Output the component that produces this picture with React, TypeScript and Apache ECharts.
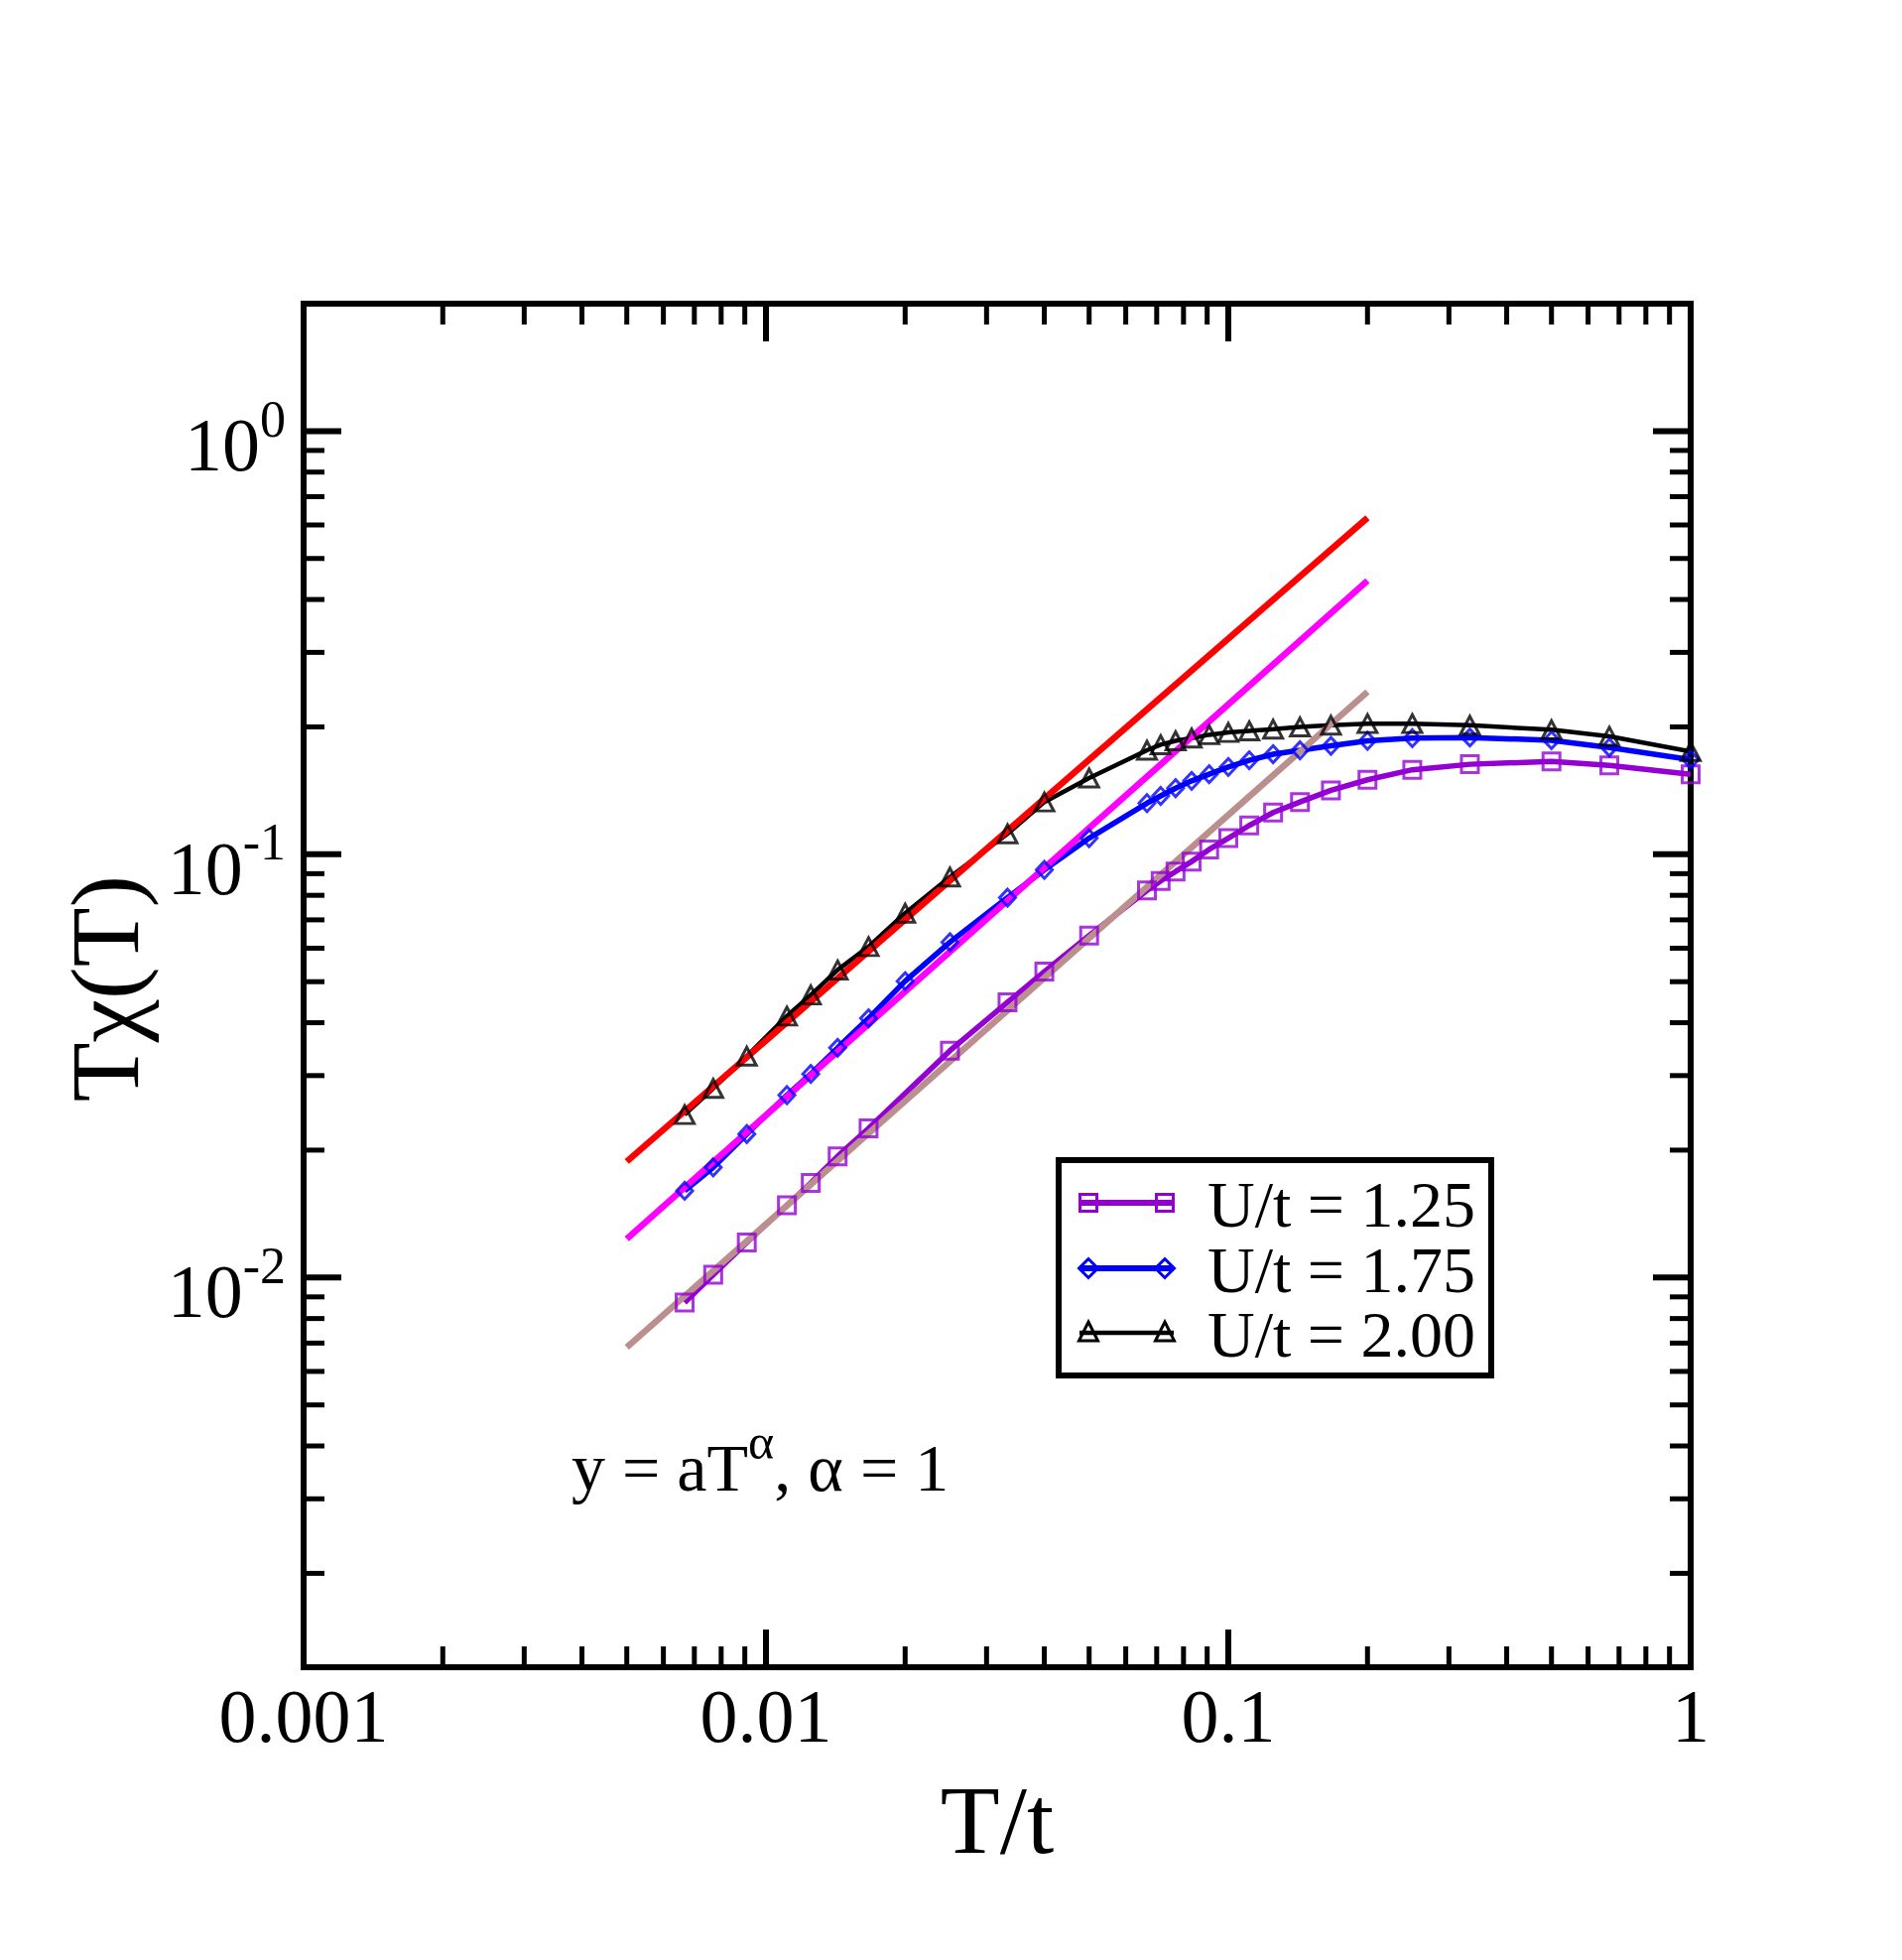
import React, { useEffect, useRef } from 'react';
import * as echarts from 'echarts';

// ---------- data ----------
const T_125 = [0.00667, 0.00769, 0.00909, 0.0111, 0.0125, 0.01429, 0.01667, 0.025, 0.0333, 0.04, 0.05, 0.0667, 0.0714, 0.0769, 0.0833, 0.0909, 0.1, 0.111, 0.125, 0.1429, 0.1667, 0.2, 0.25, 0.333, 0.5, 0.667, 1];
const Y_125 = [0.00873, 0.01015, 0.0121, 0.01482, 0.01673, 0.01934, 0.0225, 0.03436, 0.04471, 0.05281, 0.06427, 0.08214, 0.08648, 0.09105, 0.09614, 0.1027, 0.1092, 0.117, 0.1255, 0.1329, 0.1416, 0.15, 0.1584, 0.1632, 0.1657, 0.1622, 0.1546];

const T_175 = [0.00667, 0.00769, 0.00909, 0.0111, 0.0125, 0.01429, 0.01667, 0.02, 0.025, 0.0333, 0.04, 0.05, 0.0667, 0.0714, 0.0769, 0.0833, 0.0909, 0.1, 0.111, 0.125, 0.1429, 0.1667, 0.2, 0.25, 0.333, 0.5, 0.667, 1];
const Y_175 = [0.01603, 0.01821, 0.02183, 0.02698, 0.03027, 0.03489, 0.04097, 0.05016, 0.06199, 0.07898, 0.09187, 0.1092, 0.1321, 0.1374, 0.1433, 0.1491, 0.1546, 0.1608, 0.1668, 0.1724, 0.1761, 0.1804, 0.1854, 0.1882, 0.1888, 0.186, 0.1788, 0.1673];

const T_200 = [0.00667, 0.00769, 0.00909, 0.0111, 0.0125, 0.01429, 0.01667, 0.02, 0.025, 0.0333, 0.04, 0.05, 0.0667, 0.0714, 0.0769, 0.0833, 0.0909, 0.1, 0.111, 0.125, 0.1429, 0.1667, 0.2, 0.25, 0.333, 0.5, 0.667, 1];
const Y_200 = [0.02426, 0.02798, 0.03334, 0.04146, 0.04651, 0.05329, 0.0605, 0.07256, 0.08834, 0.1118, 0.1329, 0.1514, 0.1761, 0.1815, 0.1854, 0.1882, 0.1916, 0.194, 0.1957, 0.1975, 0.1999, 0.2018, 0.2036, 0.2036, 0.2018, 0.1969, 0.19, 0.175];

// power-law fit lines y = a T^alpha (end points)
const FIT_T = [0.005, 0.2];
const FIT_RED = [0.0188, 0.624];
const FIT_MAGENTA = [0.01234, 0.443];
const FIT_TAN = [0.00684, 0.242];

// axes
const X_MIN = 0.001;
const X_MAX = 1;
const Y_MIN = 0.0012;
const Y_MAX = 2;
const X_MAJOR = [0.001, 0.01, 0.1, 1];
const X_LABELS = ['0.001', '0.01', '0.1', '1'];
const X_MINOR = [0.002, 0.003, 0.004, 0.005, 0.006, 0.007, 0.008, 0.009, 0.02, 0.03, 0.04, 0.05, 0.06, 0.07, 0.08, 0.09, 0.2, 0.3, 0.4, 0.5, 0.6, 0.7, 0.8, 0.9];
const Y_MAJOR = [0.01, 0.1, 1];
const Y_EXP_LABELS = ['-2', '-1', '0'];
const Y_MINOR = [0.002, 0.003, 0.004, 0.005, 0.006, 0.007, 0.008, 0.009, 0.02, 0.03, 0.04, 0.05, 0.06, 0.07, 0.08, 0.09, 0.2, 0.3, 0.4, 0.5, 0.6, 0.7, 0.8, 0.9];

const LEGEND_LABELS = ['U/t = 1.25', 'U/t = 1.75', 'U/t = 2.00'];
const X_TITLE = 'T/t';
const Y_TITLE = 'Tχ(T)';

const FONT = '"Liberation Serif", "Times New Roman", serif';
const PURPLE = '#9400d3';
const BLUE = '#0000ff';
const BLACK = '#000000';

function zip(a: number[], b: number[]) {
  return a.map((v, i) => [v, b[i]]);
}

function isPow10(v: number) {
  const e = Math.log10(v);
  return Math.abs(e - Math.round(e)) < 1e-6 ? Math.round(e) : null;
}

function buildOption() {
  const tickData: number[][] = [
    ...X_MAJOR.map((v) => [v, 1, 0]),
    ...X_MINOR.map((v) => [v, 1, 1]),
    ...Y_MAJOR.map((v) => [1, v, 2]),
    ...Y_MINOR.map((v) => [1, v, 3]),
  ];

  const lineSeries = (name: string, data: number[][], color: string, width: number, z: number) => ({
    type: 'line',
    name,
    data,
    showSymbol: false,
    symbol: 'none',
    lineStyle: { color, width },
    itemStyle: { color },
    z,
    silent: true,
  });

  const markerSeries = (data: number[][], color: string, symbol: string, size: any) => ({
    type: 'scatter',
    data,
    symbol,
    symbolSize: size,
    itemStyle: { color: 'rgba(0,0,0,0)', borderColor: color, borderWidth: 3 },
    z: 6,
    silent: true,
  });

  const legendRows = [1212, 1278, 1343];
  const legendColors = [PURPLE, BLUE, BLACK];
  const legendWidths = [6, 6, 4.5];
  const lx1 = 1088;
  const lx2 = 1183;
  const mk = [1097, 1174];
  const legendEls: any[] = [
    {
      type: 'rect',
      z: 100,
      shape: { x: 1067, y: 1169, width: 436, height: 217 },
      style: { fill: '#fff', stroke: '#000', lineWidth: 6 },
    },
  ];
  legendRows.forEach((ry, i) => {
    legendEls.push({
      type: 'line',
      z: 101,
      shape: { x1: lx1, y1: ry, x2: lx2, y2: ry },
      style: { stroke: legendColors[i], lineWidth: legendWidths[i] },
    });
    mk.forEach((mx) => {
      if (i === 0) {
        legendEls.push({
          type: 'rect',
          z: 102,
          shape: { x: mx - 8.5, y: ry - 8.5, width: 17, height: 17 },
          style: { fill: 'none', stroke: PURPLE, lineWidth: 3 },
        });
      } else if (i === 1) {
        legendEls.push({
          type: 'polygon',
          z: 102,
          shape: { points: [[mx, ry - 9.5], [mx + 9.5, ry], [mx, ry + 9.5], [mx - 9.5, ry]] },
          style: { fill: 'none', stroke: BLUE, lineWidth: 3 },
        });
      } else {
        legendEls.push({
          type: 'polygon',
          z: 102,
          shape: { points: [[mx, ry - 11], [mx + 9.5, ry + 8], [mx - 9.5, ry + 8]] },
          style: { fill: 'none', stroke: BLACK, lineWidth: 3 },
        });
      }
    });
    legendEls.push({
      type: 'text',
      z: 102,
      x: 1217,
      y: ry + 1,
      style: {
        text: LEGEND_LABELS[i],
        fill: '#000',
        font: `66px ${FONT}`,
        lineHeight: 58,
        textAlign: 'left',
        align: 'left',
        textVerticalAlign: 'middle',
        verticalAlign: 'middle',
      },
    });
  });

  return {
    animation: false,
    backgroundColor: '#ffffff',
    grid: {
      left: 306,
      top: 306,
      width: 1398,
      height: 1374,
      show: true,
      borderColor: '#000',
      borderWidth: 6,
      backgroundColor: 'transparent',
      containLabel: false,
    },
    xAxis: {
      type: 'log',
      logBase: 10,
      min: X_MIN,
      max: X_MAX,
      axisLine: { show: false },
      axisTick: { show: false },
      minorTick: { show: false },
      splitLine: { show: false },
      axisLabel: {
        show: true,
        margin: 11,
        color: '#000',
        fontFamily: FONT,
        fontSize: 76,
        showMinLabel: true,
        showMaxLabel: true,
        formatter: (v: number) => {
          const e = isPow10(v);
          if (e === null) return '';
          const idx = X_MAJOR.findIndex((m) => Math.round(Math.log10(m)) === e);
          return idx < 0 ? '' : X_LABELS[idx];
        },
      },
    },
    yAxis: {
      type: 'log',
      logBase: 10,
      min: Y_MIN,
      max: Y_MAX,
      axisLine: { show: false },
      axisTick: { show: false },
      minorTick: { show: false },
      splitLine: { show: false },
      axisLabel: {
        show: true,
        margin: 18,
        color: '#000',
        fontFamily: FONT,
        formatter: (v: number) => {
          const e = isPow10(v);
          if (e === null) return '';
          const idx = Y_MAJOR.findIndex((m) => Math.round(Math.log10(m)) === e);
          return idx < 0 ? '' : `{b|10}{s|${Y_EXP_LABELS[idx]}}`;
        },
        rich: {
          b: { fontSize: 76, lineHeight: 76, fontFamily: FONT, color: '#000', padding: [28, 0, 0, 0] },
          s: { fontSize: 52, lineHeight: 52, fontFamily: FONT, color: '#000', verticalAlign: 'top' },
        },
      },
    },
    series: [
      lineSeries('U/t = 1.25', zip(T_125, Y_125), PURPLE, 5.5, 2),
      lineSeries('U/t = 1.75', zip(T_175, Y_175), BLUE, 5.5, 2),
      lineSeries('U/t = 2.00', zip(T_200, Y_200), BLACK, 4.5, 2),
      lineSeries('fit 2.00', zip(FIT_T, FIT_RED), '#ff0000', 6.5, 3),
      lineSeries('fit 1.75', zip(FIT_T, FIT_MAGENTA), '#ff00ff', 6.5, 3),
      lineSeries('fit 1.25', zip(FIT_T, FIT_TAN), '#bc8f8f', 6.5, 3),
      markerSeries(zip(T_125, Y_125), PURPLE, 'rect', 17),
      markerSeries(zip(T_175, Y_175), BLUE, 'diamond', [16, 17]),
      markerSeries(zip(T_200, Y_200), BLACK, 'triangle', [19, 18]),
      {
        type: 'custom',
        data: tickData,
        clip: false,
        silent: true,
        z: 10,
        encode: { x: 0, y: 1 },
        renderItem: (params: any, api: any) => {
          const cs = params.coordSys;
          const kind = api.value(2);
          const p = api.coord([api.value(0), api.value(1)]);
          const major = kind === 0 || kind === 2;
          const len = major ? 38 : 21;
          const style = { stroke: '#000', lineWidth: major ? 6 : 5 };
          const bottom = cs.y + cs.height;
          const right = cs.x + cs.width;
          if (kind < 2) {
            return {
              type: 'group',
              children: [
                { type: 'line', shape: { x1: p[0], y1: bottom, x2: p[0], y2: bottom - len }, style },
                { type: 'line', shape: { x1: p[0], y1: cs.y, x2: p[0], y2: cs.y + len }, style },
              ],
            };
          }
          return {
            type: 'group',
            children: [
              { type: 'line', shape: { x1: cs.x, y1: p[1], x2: cs.x + len, y2: p[1] }, style },
              { type: 'line', shape: { x1: right, y1: p[1], x2: right - len, y2: p[1] }, style },
            ],
          };
        },
      },
    ],
    graphic: [
      {
        type: 'text',
        z: 50,
        x: 1005,
        y: 1834,
        style: {
          text: X_TITLE,
          fill: '#000',
          font: `98px ${FONT}`,
          textAlign: 'center',
          align: 'center',
          textVerticalAlign: 'middle',
          verticalAlign: 'middle',
        },
      },
      {
        type: 'text',
        z: 50,
        x: 106,
        y: 996,
        rotation: Math.PI / 2,
        style: {
          text: Y_TITLE,
          fill: '#000',
          font: `98px ${FONT}`,
          textAlign: 'center',
          align: 'center',
          textVerticalAlign: 'middle',
          verticalAlign: 'middle',
        },
      },
      {
        type: 'text',
        z: 50,
        x: 576,
        y: 1428,
        style: {
          text: '{b|y = aT}{s|α}{b|, α = 1}',
          fill: '#000',
          font: `68px ${FONT}`,
          textAlign: 'left',
          align: 'left',
          textVerticalAlign: 'top',
          verticalAlign: 'top',
          rich: {
            b: { fontSize: 68, lineHeight: 68, fontFamily: FONT, fill: '#000', padding: [34, 0, 0, 0] },
            s: { fontSize: 50, lineHeight: 50, fontFamily: FONT, fill: '#000', verticalAlign: 'top' },
          },
        },
      },
      ...legendEls,
    ],
  };
}

export default function App() {
  const ref = useRef<HTMLDivElement>(null);
  useEffect(() => {
    if (!ref.current) return;
    const chart = echarts.init(ref.current, null, { renderer: 'svg' });
    chart.setOption(buildOption() as any);
    return () => {
      chart.dispose();
    };
  }, []);
  return (
    <div
      ref={ref}
      style={{ position: 'absolute', left: 0, top: 0, width: 1917, height: 1975, background: '#ffffff' }}
    />
  );
}
